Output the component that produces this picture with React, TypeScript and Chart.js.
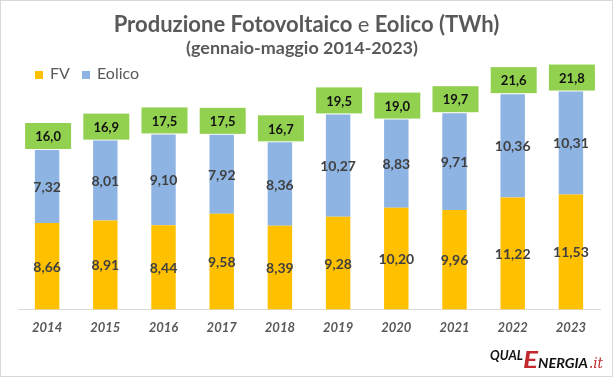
import React, { useEffect, useRef } from "react";
import { Chart, registerables } from "chart.js";

Chart.register(...registerables);

const years = ["2014", "2015", "2016", "2017", "2018", "2019", "2020", "2021", "2022", "2023"];
const fv = [8.66, 8.91, 8.44, 9.58, 8.39, 9.28, 10.2, 9.96, 11.22, 11.53];
const eolico = [7.32, 8.01, 9.1, 7.92, 8.36, 10.27, 8.83, 9.71, 10.36, 10.31];
const totals = [16.0, 16.9, 17.5, 17.5, 16.7, 19.5, 19.0, 19.7, 21.6, 21.8];

const FV_COLOR = "#FFC000";
const EOL_COLOR = "#8EB4E3";
const TOT_COLOR = "#92D050";
const TEXT_GRAY = "#595959";
const FONT = "Lato, 'Open Sans', sans-serif";

const fmt = (v: number, d: number) => v.toFixed(d).replace(".", ",");

function fitText(ctx: CanvasRenderingContext2D, text: string, x: number, y: number, w: number) {
  const m = ctx.measureText(text).width;
  ctx.save();
  ctx.translate(x, y);
  ctx.scale(w / m, 1);
  ctx.fillText(text, 0, 0);
  ctx.restore();
}

const decorPlugin = {
  id: "decor",
  beforeDraw(chart: any) {
    const ctx = chart.ctx;
    ctx.save();
    ctx.fillStyle = "#ffffff";
    ctx.fillRect(0, 0, chart.width, chart.height);
    ctx.strokeStyle = "#D9D9D9";
    ctx.lineWidth = 1;
    ctx.strokeRect(0.5, 0.5, chart.width - 1, chart.height - 1);
    ctx.restore();
  },
  afterDatasetsDraw(chart: any) {
    const ctx = chart.ctx;
    ctx.save();
    // labels inside bars
    ctx.font = `bold 14px ${FONT}`;
    ctx.fillStyle = "#404040";
    ctx.textAlign = "center";
    ctx.textBaseline = "middle";
    [0, 1].forEach((di) => {
      const meta = chart.getDatasetMeta(di);
      const vals = di === 0 ? fv : eolico;
      meta.data.forEach((bar: any, i: number) => {
        const yc = (bar.y + bar.base) / 2;
        ctx.fillText(fmt(vals[i], 2), bar.x, yc + 1);
      });
    });
    // total boxes
    const top = chart.getDatasetMeta(1);
    top.data.forEach((bar: any, i: number) => {
      const w = 46;
      const h = 26;
      const bx = bar.x + 1 - w / 2;
      const by = bar.y - 1 - h;
      ctx.fillStyle = TOT_COLOR;
      ctx.fillRect(bx, by, w, h);
      ctx.fillStyle = "#111111";
      ctx.font = `bold 13px ${FONT}`;
      ctx.fillText(fmt(totals[i], 1), bx + w / 2, by + h / 2 + 1);
    });

    // title (sized to the reference width)
    ctx.textBaseline = "alphabetic";
    ctx.fillStyle = TEXT_GRAY;
    const base = 20;
    const parts = [
      { t: "Produzione Fotovoltaico ", b: true },
      { t: "e", b: false },
      { t: " Eolico (TWh)", b: true },
    ];
    const fontOf = (b: boolean, s: number) => `${b ? "bold " : ""}${s}px ${FONT}`;
    let w0 = 0;
    parts.forEach((p) => {
      ctx.font = fontOf(p.b, base);
      w0 += ctx.measureText(p.t).width;
    });
    const size = (base * 386) / w0;
    let total = 0;
    parts.forEach((p) => {
      ctx.font = fontOf(p.b, size);
      total += ctx.measureText(p.t).width;
    });
    let x = 306.5 - total / 2;
    ctx.textAlign = "left";
    parts.forEach((p) => {
      ctx.font = fontOf(p.b, size);
      ctx.fillText(p.t, x, 32);
      x += ctx.measureText(p.t).width;
    });
    ctx.textAlign = "center";
    const sub = "(gennaio-maggio 2014-2023)";
    ctx.font = `bold 16px ${FONT}`;
    const ss = (16 * 232) / ctx.measureText(sub).width;
    ctx.font = `bold ${ss}px ${FONT}`;
    ctx.fillText(sub, 302, 54);

    // legend
    ctx.textAlign = "left";
    ctx.font = `16px ${FONT}`;
    ctx.fillStyle = FV_COLOR;
    ctx.fillRect(35, 71, 8, 8);
    ctx.fillStyle = TEXT_GRAY;
    ctx.fillText("FV", 50, 79);
    ctx.fillStyle = EOL_COLOR;
    ctx.fillRect(82, 71, 8, 8);
    ctx.fillStyle = TEXT_GRAY;
    ctx.fillText("Eolico", 97, 79);

    // logo
    ctx.textAlign = "left";
    ctx.fillStyle = "#111111";
    ctx.font = `italic bold 14px ${FONT}`;
    fitText(ctx, "QUAL", 490, 360, 33);
    ctx.fillStyle = "#C1272D";
    ctx.font = `italic bold 22px ${FONT}`;
    fitText(ctx, "E", 523, 368, 15);
    ctx.fillStyle = "#111111";
    ctx.font = `italic bold 12.5px ${FONT}`;
    fitText(ctx, "NERGIA", 538, 368, 50);
    ctx.fillStyle = "#C1272D";
    ctx.font = `italic 14px 'DejaVu Serif', serif`;
    fitText(ctx, ".it", 589, 368, 14);
    ctx.restore();
  },
};

export default function App() {
  const ref = useRef<HTMLCanvasElement>(null);
  useEffect(() => {
    document.body.style.margin = "0";
    const chart = new Chart(ref.current as HTMLCanvasElement, {
      type: "bar",
      data: {
        labels: years,
        datasets: [
          { label: "FV", data: fv, backgroundColor: FV_COLOR, barPercentage: 0.42, categoryPercentage: 1 },
          { label: "Eolico", data: eolico, backgroundColor: EOL_COLOR, barPercentage: 0.42, categoryPercentage: 1 },
        ],
      },
      options: {
        animation: false,
        responsive: false,
        maintainAspectRatio: false,
        devicePixelRatio: 1,
        layout: { padding: { left: 18, right: 13, top: 70, bottom: 30 } },
        plugins: { legend: { display: false }, title: { display: false }, tooltip: { enabled: false } },
        scales: {
          x: {
            stacked: true,
            grid: { display: false, drawTicks: false },
            border: { display: true, color: "#D9D9D9" },
            ticks: { color: TEXT_GRAY, padding: 11, font: { family: FONT, size: 13, weight: "bold", style: "italic" } },
          },
          y: { stacked: true, display: false, min: 0, max: 24 },
        },
      },
      plugins: [decorPlugin],
    });
    return () => chart.destroy();
  }, []);
  return (
    <div style={{ width: 613, height: 377 }}>
      <canvas ref={ref} width={613} height={377} style={{ display: "block" }} />
    </div>
  );
}
